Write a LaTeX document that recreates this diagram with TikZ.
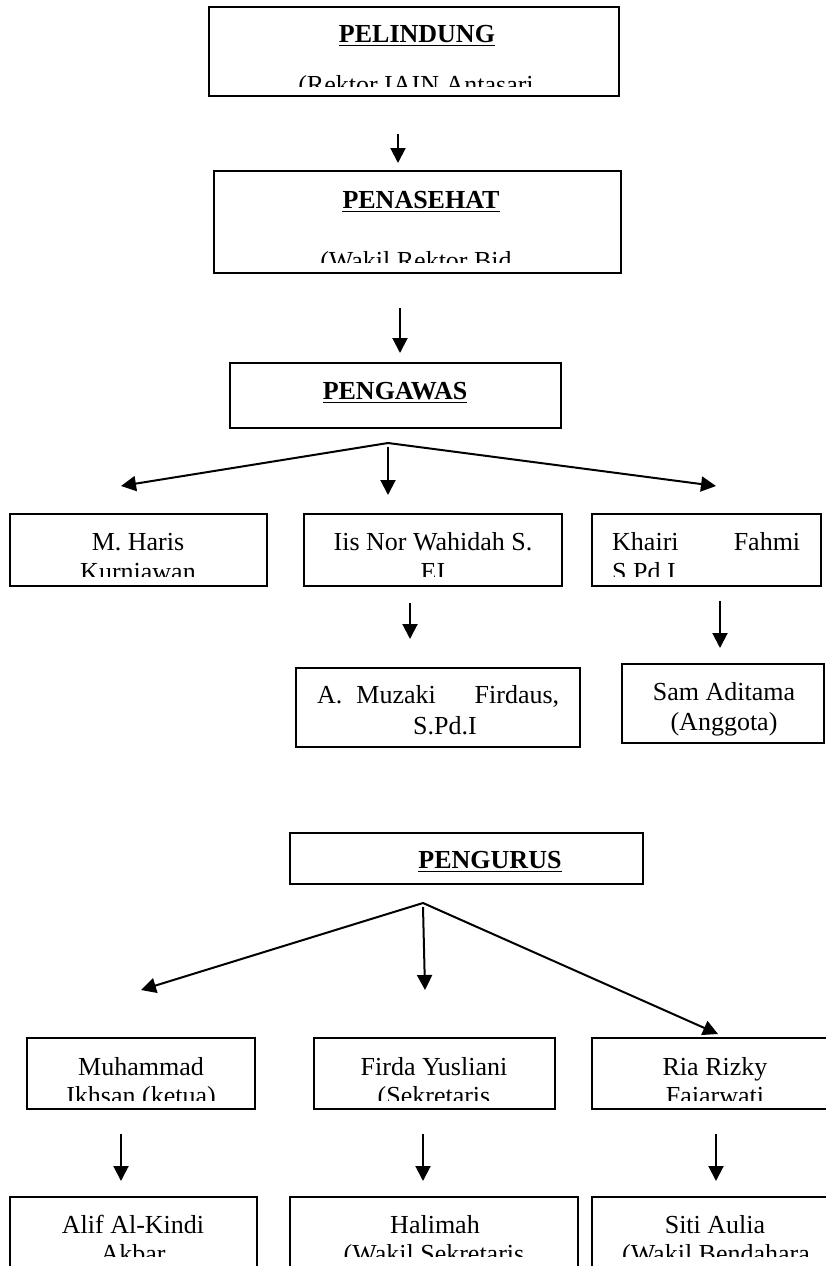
\documentclass[tikz,border=0pt]{standalone}
\usepackage{fontspec}
\setmainfont{Liberation Serif}
\usetikzlibrary{arrows.meta,fit}
\begin{document}
\begin{tikzpicture}[x=1pt,y=-1pt,
  box/.style={draw=black,line width=2.2pt,inner sep=0pt},
  txt/.style={inner sep=0pt,anchor=base,font=\fontsize{26}{29}\selectfont},
  ttl/.style={inner sep=0pt,anchor=base,font=\fontsize{26}{29}\selectfont\bfseries},
  arr/.style={line width=2pt,-{Triangle[length=15pt,width=15pt]}},
  uline/.style={line width=1.8pt}]
\clip (0,0) rectangle (826,1266);
\fill[white] (0,0) rectangle (826,1266);

% ---------- boxes ----------
\node[box,fit={(209,7) (619,96)}] (pel) {};
\node[box,fit={(214,171) (621,273)}] (pen) {};
\node[box,fit={(230,363) (561,428)}] (pgw) {};
\node[box,fit={(10,514) (267,586)}] (haris) {};
\node[box,fit={(304,514) (562,586)}] (iis) {};
\node[box,fit={(592,514) (821,586)}] (khairi) {};
\node[box,fit={(296,668) (580,747)}] (muzaki) {};
\node[box,fit={(622,664) (824,743)}] (sam) {};
\node[box,fit={(290,833) (643,884)}] (pgr) {};
\node[box,fit={(27,1038) (255,1109)}] (muh) {};
\node[box,fit={(314,1038) (555,1109)}] (firda) {};
\node[box,fit={(592,1038) (840,1109)}] (ria) {};
\node[box,fit={(10,1197) (257,1290)}] (alif) {};
\node[box,fit={(290,1197) (578,1290)}] (hal) {};
\node[box,fit={(592,1197) (840,1290)}] (siti) {};

% ---------- titles ----------
\node[ttl] (tpel) at (417,42) {PELINDUNG};
\draw[uline] ([yshift=-3.5pt]tpel.base west) -- ([yshift=-3.5pt]tpel.base east);
\node[ttl] (tpen) at (421,208) {PENASEHAT};
\draw[uline] ([yshift=-3.5pt]tpen.base west) -- ([yshift=-3.5pt]tpen.base east);
\node[ttl] (tpgw) at (395,399) {PENGAWAS};
\draw[uline] ([yshift=-3.5pt]tpgw.base west) -- ([yshift=-3.5pt]tpgw.base east);
\node[ttl] (tpgr) at (490,868) {PENGURUS};
\draw[uline] ([yshift=-3.5pt]tpgr.base west) -- ([yshift=-3.5pt]tpgr.base east);

% ---------- clipped texts ----------
\begin{scope}
\clip (212,10) rectangle (616,86);
\node[txt] (l1) at (416,93) {(Rektor IAIN Antasari};
\end{scope}
\begin{scope}
\clip (217,174) rectangle (618,262);
\node[txt] (l2) at (416,269) {(Wakil Rektor Bid};
\end{scope}

\node[txt] (h1) at (138,550) {M. Haris};
\begin{scope}
\clip (12,516) rectangle (265,576);
\node[txt] (h2) at (138,580) {Kurniawan};
\end{scope}
\node[txt] (i1) at (433,550) {Iis Nor Wahidah S.};
\begin{scope}
\clip (306,516) rectangle (560,576);
\node[txt] (i2) at (433,580) {EI};
\end{scope}
\node[txt,anchor=base west] (k1) at (612,550) {\makebox[188pt][s]{Khairi Fahmi}};
\begin{scope}
\clip (594,516) rectangle (819,576);
\node[txt,anchor=base west] (k2) at (612,580) {S.Pd.I};
\end{scope}

\node[txt,anchor=base west] (m1) at (317,703) {\makebox[242pt][l]{A.\hspace{14pt}Muzaki\hfill Firdaus,}};
\node[txt] (m2) at (445,734) {S.Pd.I};
\node[txt] (s1) at (724,700) {Sam Aditama};
\node[txt] (s2) at (724,730) {(Anggota)};

\node[txt] (mu1) at (141,1075) {Muhammad};
\begin{scope}
\clip (29,1040) rectangle (253,1100);
\node[txt] (mu2) at (141,1104) {Ikhsan (ketua)};
\end{scope}
\node[txt] (f1) at (434,1075) {Firda Yusliani};
\begin{scope}
\clip (316,1040) rectangle (553,1100);
\node[txt] (f2) at (434,1104) {(Sekretaris};
\end{scope}
\node[txt] (r1) at (715,1075) {Ria Rizky};
\begin{scope}
\clip (594,1040) rectangle (838,1100);
\node[txt] (r2) at (715,1104) {Fajarwati};
\end{scope}

\node[txt] (a1) at (133,1233) {Alif Al-Kindi};
\begin{scope}
\clip (12,1199) rectangle (255,1256);
\node[txt] (a2) at (133,1262) {Akbar};
\end{scope}
\node[txt] (ha1) at (435,1233) {Halimah};
\begin{scope}
\clip (292,1199) rectangle (576,1256);
\node[txt] (ha2) at (434,1262) {(Wakil Sekretaris};
\end{scope}
\node[txt] (si1) at (715,1233) {Siti Aulia};
\begin{scope}
\clip (594,1199) rectangle (838,1256);
\node[txt] (si2) at (716,1262) {(Wakil Bendahara};
\end{scope}

% ---------- connector coordinates ----------
\coordinate (a1s) at (398,134);  \coordinate (a1e) at (398,163);
\coordinate (a2s) at (400,308);  \coordinate (a2e) at (400,353);
\coordinate (fk1) at (388,443);
\coordinate (fk1m) at (388,447);
\coordinate (fk1l) at (121,486);
\coordinate (fk1c) at (388,495);
\coordinate (fk1r) at (716,486);
\coordinate (b1s) at (410,603); \coordinate (b1e) at (410,639);
\coordinate (b2s) at (720,601); \coordinate (b2e) at (720,648);
\coordinate (fk2) at (423,903);
\coordinate (fk2m) at (423,907);
\coordinate (fk2l) at (141,990);
\coordinate (fk2c) at (425,990);
\coordinate (fk2r) at (718,1034);
\coordinate (c1s) at (121,1134); \coordinate (c1e) at (121,1181);
\coordinate (c2s) at (423,1134); \coordinate (c2e) at (423,1181);
\coordinate (c3s) at (716,1134); \coordinate (c3e) at (716,1181);

% ---------- connectors ----------
\draw[arr] (a1s) -- (a1e);
\draw[arr] (a2s) -- (a2e);
\draw[arr] (fk1) -- (fk1l);
\draw[arr] (fk1m) -- (fk1c);
\draw[arr] (fk1) -- (fk1r);
\draw[arr] (b1s) -- (b1e);
\draw[arr] (b2s) -- (b2e);
\draw[arr] (fk2) -- (fk2l);
\draw[arr] (fk2m) -- (fk2c);
\draw[arr] (fk2) -- (fk2r);
\draw[arr] (c1s) -- (c1e);
\draw[arr] (c2s) -- (c2e);
\draw[arr] (c3s) -- (c3e);
\end{tikzpicture}
\end{document}
